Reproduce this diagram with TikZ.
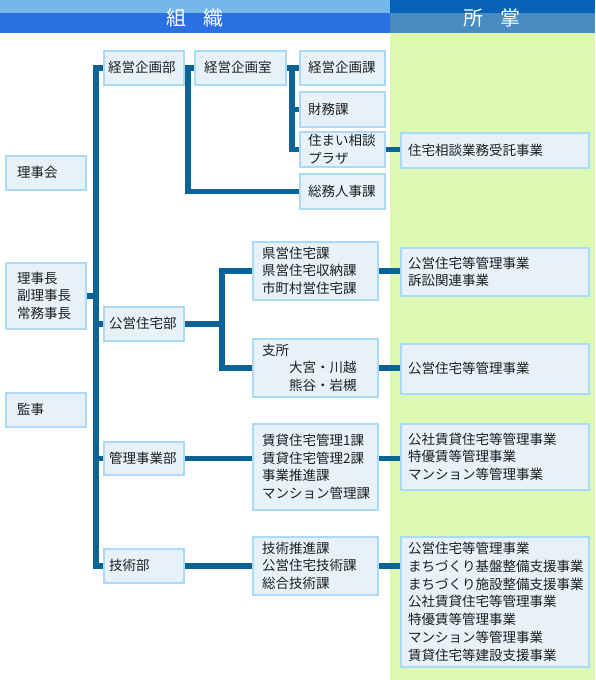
\documentclass[tikz,border=0pt]{standalone}
\usepackage{fontspec}
\setmainfont{Noto Sans CJK JP}
\usetikzlibrary{calc}
\definecolor{connc}{RGB}{12,100,150}
\definecolor{boxfill}{RGB}{230,241,249}
\definecolor{boxline}{RGB}{170,218,248}
\definecolor{greenbg}{RGB}{221,248,177}
\definecolor{hdlight}{RGB}{117,183,232}
\definecolor{hdblue}{RGB}{43,112,227}
\definecolor{hddark}{RGB}{5,98,181}
\definecolor{hdsteel}{RGB}{71,139,192}
\definecolor{txtc}{RGB}{30,30,30}
\pgfdeclarelayer{bg}
\pgfsetlayers{bg,main}
\newcommand{\orgbox}[7]{%
  \node[orgbox, minimum width=#4pt, minimum height=#5pt, anchor=north west] (#1) at (#2,#3) {};
  \node[txt, anchor=west] at ([xshift=#6pt]#1.west) {#7};}
\begin{document}
\begin{tikzpicture}[x=1pt,y=-1pt,
  orgbox/.style={draw=boxline, fill=boxfill, line width=1.5pt, inner sep=0pt},
  txt/.style={inner sep=0pt, align=left, text=txtc, font=\fontsize{13.5}{17.7}\selectfont},
  hdr/.style={inner sep=0pt, text=white, font=\fontsize{20}{20}\selectfont},
  conn/.style={draw=connc, line width=5.5pt, line cap=rect, line join=miter}]
\useasboundingbox (0,0) rectangle (595,680);
% header and background
\begin{pgfonlayer}{bg}
\fill[greenbg] (390,33) rectangle (595,680);
\fill[hdlight] (0,0) rectangle (390,13);
\fill[hdblue] (0,13) rectangle (390,33);
\fill[hddark] (390,0) rectangle (595,13);
\fill[hdsteel] (390,13) rectangle (595,33);
\end{pgfonlayer}
\node[hdr] (h1) at (195,18) {組\hspace{0.9em}織};
\node[hdr] (h2) at (492,18) {所\hspace{0.9em}掌};
% left column
\orgbox{riji}{5}{155}{80}{34}{12}{理事会}
\orgbox{rijicho}{5}{262}{80}{66}{12}{理事長\\副理事長\\常務事長}
\orgbox{kanji}{5}{392}{80}{34}{12}{監事}
% departments
\orgbox{bu1}{103}{50}{80}{34}{5}{経営企画部}
\orgbox{bu2}{103}{306}{80}{34}{6}{公営住宅部}
\orgbox{bu3}{103}{441}{80}{33}{6}{管理事業部}
\orgbox{bu4}{103}{548}{80}{34}{6}{技術部}
% keiei
\orgbox{shitsu}{194}{50}{91}{34}{10}{経営企画室}
\orgbox{ka1}{299}{50}{85}{34}{9}{経営企画課}
\orgbox{ka2}{299}{91}{85}{35}{9}{財務課}
\orgbox{ka3}{299}{131}{85}{35}{9}{住まい相談\\プラザ}
\orgbox{ka4}{299}{173}{85}{35}{9}{総務人事課}
% sections
\orgbox{s1}{252}{241}{125}{58}{10}{県営住宅課\\県営住宅収納課\\市町村営住宅課}
\orgbox{s2}{252}{338}{125}{58}{10}{支所\\\hspace{2em}大宮・川越\\\hspace{2em}熊谷・岩槻}
\orgbox{s3}{252}{423}{125}{86}{10}{賃貸住宅管理1課\\賃貸住宅管理2課\\事業推進課\\マンション管理課}
\orgbox{s4}{252}{536}{125}{58}{10}{技術推進課\\公営住宅技術課\\総合技術課}
% duties
\orgbox{r0}{400}{132}{188}{35}{8}{住宅相談業務受託事業}
\orgbox{r1}{400}{247}{188}{48}{8}{公営住宅等管理事業\\訴訟関連事業}
\orgbox{r2}{400}{343}{188}{50}{8}{公営住宅等管理事業}
\orgbox{r3}{400}{423}{188}{66}{8}{公社賃貸住宅等管理事業\\特優賃等管理事業\\マンション等管理事業}
\orgbox{r4}{400}{536}{188}{130}{8}{公営住宅等管理事業\\まちづくり基盤整備支援事業\\まちづくり施設整備支援事業\\公社賃貸住宅等管理事業\\特優賃等管理事業\\マンション等管理事業\\賃貸住宅等建設支援事業}
% connectors
\coordinate (trunk) at (96,0);
\coordinate (j0) at (188,0);
\coordinate (j1) at (292,0);
\coordinate (j2) at (222,0);
\begin{pgfonlayer}{bg}
\draw[conn] (bu1.west) -| (trunk |- bu4.west) -- (bu4.west);
\draw[conn] (rijicho.east) -- (rijicho.east -| trunk);
\draw[conn] (bu2.west) -- (bu2.west -| trunk);
\draw[conn] (bu3.west) -- (bu3.west -| trunk);
\draw[conn] (bu1.east) -- (shitsu.west);
\draw[conn] (j0 |- bu1.east) |- (ka4.west);
\draw[conn] (shitsu.east) -- (ka1.west);
\draw[conn] (j1 |- ka1.west) |- (ka3.west);
\draw[conn] (j1 |- ka2.west) -- (ka2.west);
\draw[conn] (ka3.east) -- (ka3.east -| r0.west);
\draw[conn] (bu2.east) -- (bu2.east -| j2);
\draw[conn] (s1.west) -| (j2 |- s2.west) -- (s2.west);
\draw[conn] (s1.east) -- (s1.east -| r1.west);
\draw[conn] (s2.east) -- (s2.east -| r2.west);
\draw[conn] (bu3.east) -- (bu3.east -| s3.west);
\draw[conn] (bu3.east -| s3.east) -- (bu3.east -| r3.west);
\draw[conn] (bu4.east) -- (bu4.east -| s4.west);
\draw[conn] (bu4.east -| s4.east) -- (bu4.east -| r4.west);
\end{pgfonlayer}
\end{tikzpicture}
\end{document}
